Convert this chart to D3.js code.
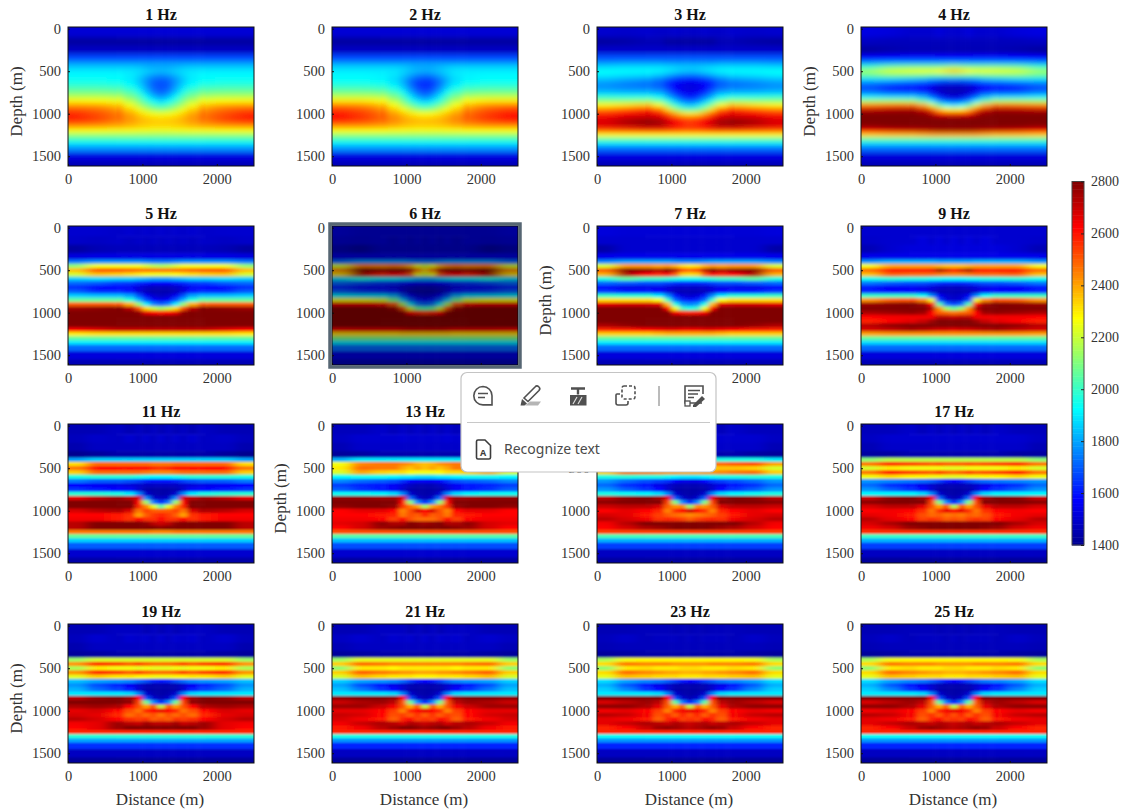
<!DOCTYPE html>
<html>
<head>
<meta charset="utf-8">
<script src="https://cdn.jsdelivr.net/npm/d3@7"></script>
<style>
  html, body { margin: 0; background: #fff; }
  svg { display: block; font-family: "Liberation Serif", serif; }
</style>
</head>
<body>
<svg id="chart" width="1123" height="812"></svg>
<script>
// velocity, in units of 10 m/s
// the model is symmetric about 1250 m so each row holds the left half only:
// distances 100, 400, 650, 850, 950, 1050, 1150, 1250
let depths = [50,150,250,350,400,450,500,550,600,650,700,750,800,850,900,950,1000,1050,1100,1150,1200,1250,1300,1350,1400,1500,1600];
let distances = [100,400,650,850,950,1050,1150,1250,1350,1450,1550,1650,1850,2100,2400];

let hz1 = [
[151,151,151,151,151,151,151,151],[143,143,143,143,143,143,143,143],[148,148,148,148,148,148,148,148],[167,167,167,167,167,167,167,167],
[178,178,178,178,178,178,178,178],[185,185,185,185,184,182,181,181],[190,190,190,189,188,186,184,183],[192,192,192,190,187,182,178,176],
[194,194,193,190,185,178,172,170],[197,197,196,192,186,178,170,168],[203,203,202,197,190,180,171,168],[209,209,208,203,196,185,175,171],
[218,218,217,210,203,193,183,178],[229,228,226,218,210,200,192,187],[241,240,236,226,217,209,202,198],[251,248,243,234,226,219,213,210],
[257,252,247,240,234,229,226,225],[259,254,248,242,238,235,233,232],[253,250,245,241,238,236,235,235],[241,240,238,236,234,233,232,232],
[227,227,226,226,225,225,224,224],[213,213,213,213,213,213,213,213],[201,201,201,201,201,201,201,201],[190,190,190,190,190,190,190,190],
[177,177,177,177,177,177,177,177],[153,153,153,153,153,153,153,153],[146,146,146,146,146,146,146,146]];
let hz2 = [
[151,151,151,151,151,151,151,151],[143,143,143,143,143,143,143,143],[148,148,148,148,148,148,148,148],[167,167,167,167,167,167,167,167],
[178,178,178,178,178,178,178,178],[186,186,186,186,185,183,181,181],[190,190,190,189,187,184,182,181],[192,192,191,189,185,180,175,173],
[193,193,192,188,182,174,168,166],[196,196,195,190,183,173,165,163],[202,202,201,195,187,176,167,164],[209,209,208,202,194,182,172,168],
[219,219,218,210,202,190,180,175],[231,231,228,218,209,198,189,185],[245,243,238,227,217,208,200,196],[254,251,245,235,227,220,213,210],
[260,255,249,241,236,231,228,227],[261,256,250,244,240,237,235,234],[254,251,247,243,240,238,237,237],[241,241,239,237,235,234,233,233],
[227,227,227,226,226,225,225,225],[213,213,213,213,213,213,213,213],[201,201,201,201,201,201,201,201],[190,190,190,190,190,190,190,190],
[177,177,177,177,177,177,177,177],[153,153,153,153,153,153,153,153],[146,146,146,146,146,146,146,146]];
let hz3 = [
[150,149,150,149,149,150,149,149],[143,144,146,146,143,143,143,143],[149,149,149,149,149,149,149,149],[168,168,168,168,168,168,168,168],
[178,179,179,179,178,178,178,178],[187,188,188,188,187,186,185,185],[193,192,192,191,189,187,185,184],[190,188,187,184,180,176,173,172],
[183,180,178,174,168,163,160,159],[178,175,173,170,163,157,154,153],[178,176,175,172,165,157,153,152],[185,183,183,180,172,162,156,154],
[198,196,196,192,182,172,164,160],[212,212,214,207,196,184,174,170],[228,231,236,227,212,198,188,184],[245,250,257,248,232,216,206,202],
[258,262,266,263,252,240,232,230],[265,270,272,270,264,258,252,250],[268,275,279,277,270,264,258,255],[265,268,272,271,267,263,258,256],
[250,252,254,254,253,252,250,250],[228,228,228,228,228,228,228,228],[205,205,205,205,205,205,205,205],[190,190,190,190,190,190,190,190],
[172,172,172,172,172,172,172,172],[153,153,153,153,153,153,153,153],[146,146,146,146,146,146,146,146]];
let hz4 = [
[153,152,150,150,150,152,150,150],[148,147,147,147,147,147,147,147],[143,145,146,146,146,146,146,146],[157,158,159,159,159,158,158,158],
[178,180,180,180,180,180,180,180],[200,208,210,210,210,210,212,214],[214,222,224,225,225,228,232,235],[205,209,208,207,205,205,206,207],
[186,185,182,180,176,174,172,172],[172,168,165,163,158,154,152,152],[168,162,160,157,152,148,147,147],[174,168,167,164,156,150,146,145],
[190,187,187,182,170,160,154,152],[214,215,215,205,190,176,168,165],[245,248,250,240,222,204,192,188],[270,272,274,268,252,236,228,225],
[280,280,280,278,272,262,258,258],[280,280,280,280,280,280,280,280],[280,280,280,280,280,280,280,280],[278,280,280,280,280,280,280,280],
[262,266,268,270,272,274,274,274],[234,236,236,238,240,240,240,240],[205,205,205,205,205,205,205,205],[188,188,188,188,188,188,188,188],
[172,172,172,172,172,172,172,172],[152,152,152,152,152,152,152,152],[146,146,146,146,146,146,146,146]];
let hz5 = [
[150,150,149,150,149,150,149,150],[149,148,149,148,149,148,149,148],[143,146,147,147,147,147,147,147],[152,153,153,153,153,153,153,153],
[174,178,178,178,178,176,174,174],[212,226,226,226,226,222,218,216],[236,252,252,250,248,248,248,248],[222,236,234,232,230,228,226,226],
[186,188,186,186,184,182,180,180],[172,170,166,165,162,160,158,158],[164,158,158,156,152,149,147,147],[170,163,163,160,152,147,145,145],
[186,184,184,180,168,156,150,148],[206,206,206,198,182,168,158,155],[250,250,250,238,212,190,175,170],[276,278,280,272,252,232,220,215],
[280,280,280,280,278,266,262,260],[280,280,280,280,280,280,280,280],[280,280,280,280,280,280,280,280],[280,280,280,280,280,280,280,280],
[262,266,270,270,270,270,270,270],[230,232,232,232,232,232,232,232],[206,206,206,206,206,206,206,206],[190,190,190,190,190,190,190,190],
[172,172,172,172,172,172,172,172],[152,152,152,152,152,152,152,152],[146,146,146,146,146,146,146,146]];
let hz6 = [
[152,150,150,150,150,150,150,150],[150,149,150,148,150,148,150,148],[146,143,148,148,148,148,148,148],[152,152,152,152,152,152,152,152],
[172,178,178,178,178,176,174,174],[222,246,244,246,244,238,226,222],[242,280,276,278,278,272,244,234],[232,272,258,262,260,250,228,224],
[188,196,190,190,188,186,182,182],[172,168,165,164,160,158,156,156],[162,156,156,154,150,148,146,146],[170,165,163,160,152,146,144,144],
[190,188,188,182,168,156,150,148],[226,226,222,208,186,170,160,156],[266,266,264,250,216,190,174,170],[280,280,280,276,252,222,206,202],
[280,280,280,280,278,262,258,255],[280,280,280,280,280,280,280,280],[280,280,280,280,280,280,280,280],[280,280,280,280,280,280,280,280],
[264,266,266,266,268,270,270,270],[232,232,232,232,234,234,234,234],[210,210,210,210,210,210,210,210],[190,190,190,190,190,190,190,190],
[172,172,172,172,172,172,172,172],[152,152,152,152,152,152,152,152],[146,146,146,146,146,146,146,146]];
let hz7 = [
[152,151,151,151,151,151,151,151],[150,150,150,150,150,150,150,150],[144,150,150,150,150,150,150,150],[154,154,154,154,154,154,154,154],
[176,180,180,180,180,178,176,176],[222,242,242,240,242,238,232,230],[250,280,278,274,280,272,254,250],[238,274,262,258,262,250,234,232],
[196,206,200,200,198,196,194,194],[172,170,168,168,166,164,162,162],[158,154,154,154,152,150,149,149],[165,160,160,158,152,147,146,146],
[200,198,198,190,176,160,152,150],[232,232,232,226,200,172,162,160],[266,268,268,266,236,196,178,175],[280,280,280,280,262,226,200,195],
[280,280,280,280,280,264,260,258],[280,280,280,280,280,280,280,280],[280,280,280,280,280,280,280,280],[274,278,280,280,280,280,280,280],
[258,260,262,264,266,266,264,264],[234,234,234,236,238,238,238,238],[206,206,206,206,206,206,206,206],[190,190,190,190,190,190,190,190],
[172,172,172,172,172,172,172,172],[152,152,152,152,152,152,152,152],[146,146,146,146,146,146,146,146]];
let hz9 = [
[150,150,150,150,150,150,150,150],[149,150,150,152,150,152,150,152],[146,150,152,152,152,152,152,152],[154,154,154,154,154,154,154,154],
[178,182,182,182,182,180,180,180],[226,240,240,240,240,238,236,236],[248,262,262,262,264,274,268,262],[236,250,248,248,248,246,244,244],
[194,198,196,196,194,194,192,192],[174,170,168,168,166,164,162,162],[160,156,156,154,152,150,148,148],[162,158,158,156,150,146,146,146],
[200,200,200,194,176,156,150,148],[242,250,252,244,224,166,152,150],[276,278,280,276,262,204,172,166],[280,280,280,280,274,242,214,206],
[274,276,278,276,262,250,248,246],[262,264,264,264,264,272,272,270],[258,262,266,270,276,280,280,280],[272,278,280,280,280,280,280,280],
[268,270,274,272,270,268,268,266],[240,242,242,242,242,242,242,242],[206,206,206,206,206,206,206,206],[188,188,188,188,188,188,188,188],
[172,172,172,172,172,172,172,172],[152,152,152,152,152,152,152,152],[146,146,146,146,146,146,146,146]];
let hz11 = [
[146,146,148,146,148,146,148,146],[147,149,148,150,148,150,148,150],[145,148,148,148,148,148,148,148],[140,142,144,144,144,144,144,144],
[180,186,186,186,186,186,186,186],[232,248,248,248,248,248,246,246],[246,262,262,262,262,262,258,256],[234,248,248,248,248,246,244,244],
[196,198,198,198,196,194,192,192],[174,170,170,168,166,162,160,160],[158,156,154,152,150,148,148,148],[164,160,158,156,150,145,144,144],
[198,198,196,190,176,150,145,144],[266,272,276,272,268,176,150,148],[280,280,280,280,262,214,174,162],[280,280,280,280,258,244,224,204],
[268,272,274,268,246,254,250,250],[262,262,260,256,240,250,255,258],[264,264,260,256,262,256,256,262],[272,280,280,280,280,278,272,270],
[272,280,280,280,280,280,280,278],[246,246,246,246,246,246,244,244],[206,206,206,206,206,206,206,206],[186,186,186,186,186,186,186,186],
[170,170,170,170,170,170,170,170],[150,150,150,150,150,150,150,150],[144,144,144,144,144,144,144,144]];
let hz13 = [
[147,147,149,147,149,147,149,147],[148,150,150,150,151,150,150,150],[146,149,149,149,149,149,149,149],[142,143,145,145,145,145,145,145],
[182,190,190,190,190,190,190,190],[226,244,246,246,244,242,238,236],[230,248,246,246,240,236,240,236],[222,240,234,232,232,228,226,226],
[192,194,194,192,190,190,188,188],[176,172,170,168,164,158,156,156],[166,162,160,156,152,148,146,146],[170,164,160,156,150,145,144,144],
[194,194,192,188,176,150,145,144],[278,278,276,276,268,172,150,146],[280,280,280,280,262,212,176,162],[278,280,280,278,256,246,240,214],
[262,266,266,262,244,252,268,262],[262,262,260,258,246,252,250,258],[264,264,262,254,262,252,248,248],[266,268,278,274,274,280,278,276],
[262,268,276,278,280,280,280,280],[252,252,252,252,252,252,252,252],[204,204,204,204,204,204,204,204],[184,184,184,184,184,184,184,184],
[168,168,168,168,168,168,168,168],[150,150,150,150,150,150,150,150],[143,143,143,143,143,143,143,143]];
let hz15 = [
[147,147,149,147,149,147,149,147],[148,150,150,150,150,150,150,150],[146,149,149,149,149,149,149,149],[142,143,145,145,145,145,145,145],
[190,196,196,196,196,196,196,196],[240,252,250,248,246,246,246,246],[222,234,236,236,234,236,234,234],[234,248,246,244,242,242,240,240],
[196,198,196,196,194,192,190,190],[178,172,168,166,164,158,154,154],[172,164,160,154,150,147,146,146],[178,170,164,158,150,145,144,144],
[196,194,192,188,176,150,145,144],[272,278,280,276,266,170,150,146],[278,280,280,280,254,210,176,160],[270,272,272,268,250,242,244,212],
[262,266,262,258,244,256,262,270],[268,266,260,254,250,248,246,244],[272,268,264,256,258,256,254,250],[264,272,280,280,280,280,280,280],
[262,268,274,276,278,280,280,280],[254,254,254,254,254,254,254,254],[202,202,202,202,202,202,202,202],[182,182,182,182,182,182,182,182],
[166,166,166,166,166,166,166,166],[148,148,148,148,148,148,148,148],[143,143,143,143,143,143,143,143]];
let hz17 = [
[147,147,149,147,149,147,149,147],[148,150,150,150,150,150,150,150],[146,149,149,149,149,149,149,149],[143,143,145,145,145,145,145,145],
[212,218,218,218,218,218,218,218],[246,258,254,252,250,252,250,250],[222,230,226,226,226,226,224,224],[246,260,254,252,250,254,250,248],
[226,232,228,228,226,226,224,224],[178,176,174,172,170,166,160,158],[172,164,160,154,150,147,146,146],[178,170,164,158,150,145,144,144],
[192,192,192,188,176,150,145,144],[270,278,280,276,264,172,150,146],[278,280,280,280,254,210,176,160],[268,272,272,266,252,240,252,216],
[262,264,262,256,246,256,266,262],[266,264,260,252,248,250,246,248],[272,266,262,254,256,254,250,252],[268,274,280,280,280,280,280,280],
[264,268,276,278,280,280,280,280],[256,256,256,256,256,256,256,256],[200,200,200,200,200,200,200,200],[182,182,182,182,182,182,182,182],
[166,166,166,166,166,166,166,166],[148,148,148,148,148,148,148,148],[142,142,142,142,142,142,142,142]];
let hz19 = [
[146,146,148,148,148,146,148,146],[147,150,148,150,149,150,148,150],[145,148,148,148,148,148,148,148],[142,143,144,144,144,144,144,144],
[214,222,222,222,222,222,222,222],[242,258,254,250,254,250,248,248],[216,230,226,226,224,226,224,224],[242,258,254,250,254,250,248,248],
[224,234,230,230,228,228,226,226],[184,180,178,176,172,168,162,160],[178,168,162,156,150,146,145,145],[182,172,166,160,150,145,144,144],
[190,190,190,188,176,150,145,144],[272,278,280,276,262,168,150,146],[280,280,280,278,254,208,176,160],[274,276,274,262,252,240,252,218],
[266,268,262,252,246,258,262,266],[268,266,258,248,252,248,252,246],[272,268,262,256,254,256,250,252],[264,266,276,272,270,276,272,272],
[262,266,276,280,280,280,280,280],[258,258,258,258,258,258,258,258],[198,198,198,198,198,198,198,198],[180,180,180,180,180,180,180,180],
[164,164,164,164,164,164,164,164],[148,148,148,148,148,148,148,148],[142,142,142,142,142,142,142,142]];
let hz21 = [
[146,146,148,148,148,146,148,146],[148,150,148,150,149,150,148,150],[146,148,148,148,148,148,148,148],[142,143,144,144,144,144,144,144],
[214,224,224,224,224,224,224,224],[234,248,246,244,244,244,244,244],[212,230,230,228,230,230,230,230],[234,250,246,244,242,242,240,240],
[222,236,232,230,230,230,228,228],[186,180,178,176,172,166,160,158],[180,168,160,154,150,146,145,145],[184,174,164,158,150,145,144,144],
[190,190,190,188,176,150,145,144],[278,280,280,278,262,168,150,146],[270,274,276,272,252,208,176,160],[276,276,270,264,252,238,252,218],
[266,266,262,254,244,258,262,266],[270,268,262,252,254,250,256,250],[268,264,260,250,258,262,254,256],[264,270,274,272,268,274,272,270],
[260,264,272,276,280,280,278,276],[258,258,258,258,258,258,258,258],[196,196,196,196,196,196,196,196],[178,178,178,178,178,178,178,178],
[162,162,162,162,162,162,162,162],[148,148,148,148,148,148,148,148],[142,142,142,142,142,142,142,142]];
let hz23 = [
[146,146,147,147,147,146,147,146],[147,149,147,148,148,148,147,148],[146,147,147,147,147,147,147,147],[142,143,144,144,144,144,144,144],
[216,226,228,228,228,228,228,228],[232,246,244,244,244,242,242,242],[212,230,232,230,230,230,232,232],[232,248,244,242,240,240,238,238],
[224,236,234,232,232,232,230,230],[188,180,176,174,170,166,160,158],[182,170,160,154,150,146,145,145],[186,176,164,158,150,145,144,144],
[190,190,190,188,176,150,145,144],[280,280,280,280,262,168,150,146],[268,272,276,272,252,206,174,160],[278,278,274,266,250,238,250,218],
[264,266,262,254,244,258,264,266],[272,270,264,252,256,250,258,252],[266,264,260,250,258,262,254,256],[266,270,274,272,270,274,272,270],
[258,262,270,276,278,276,274,272],[258,258,258,258,258,258,258,258],[194,194,194,194,194,194,194,194],[178,178,178,178,178,178,178,178],
[162,162,162,162,162,162,162,162],[148,148,148,148,148,148,148,148],[142,142,142,142,142,142,142,142]];
let hz25 = hz23; // 23 Hz and 25 Hz read the same

let frequencies = ['1 Hz','2 Hz','3 Hz','4 Hz','5 Hz','6 Hz','7 Hz','9 Hz','11 Hz','13 Hz','15 Hz','17 Hz','19 Hz','21 Hz','23 Hz','25 Hz'];
let tables = [hz1,hz2,hz3,hz4,hz5,hz6,hz7,hz9,hz11,hz13,hz15,hz17,hz19,hz21,hz23,hz25];
let distanceTicks = [0,1000,2000];
let depthTicks = [0,500,1000,1500];
let colorTicks = [1400,1600,1800,2000,2200,2400,2600,2800];
let depthLabelled = ['1 Hz','4 Hz','7 Hz','13 Hz','19 Hz'];

/*global d3*/
let svg = d3.select('#chart');
let colLefts = [68,332,597,861];
let rowTops = [27,226,424,624];
let panelW = 186;
let panelH = 139;

// matlab jet
let jet = d3.scaleLinear()
	.domain([1400,1575,1925,2275,2625,2800])
	.range(['#00008f','#0000ff','#00ffff','#ffff00','#ff0000','#800000'])
	.clamp(true);

let defs = svg.append('defs');
function addBlur(id, sx, sy) {
	defs.append('filter')
		.attr('id', id)
		.attr('filterUnits', 'userSpaceOnUse')
		.attr('x', 0).attr('y', 0).attr('width', 1123).attr('height', 812)
		.append('feGaussianBlur')
		.attr('stdDeviation', `${sx} ${sy}`);
}
// low frequency rows get more vertical softening, flanks more sideways softening than the notch
addBlur('blurNotch0', 3, 2.5);
addBlur('blurNotch1', 2.6, 1.4);
addBlur('blurNotch2', 2.4, 1);
addBlur('blurFlank0', 8, 2.5);
addBlur('blurFlank1', 7, 1.4);
addBlur('blurFlank2', 6, 1);

// cell edges half way between the read columns, outer ones pushed past the frame for the blur
function edges(centres, lo, hi) {
	let e = [lo];
	d3.pairs(centres).forEach(p => e.push((p[0] + p[1]) / 2));
	e.push(hi);
	return e;
}
let xEdges = edges(distances, -600, 3100);
let yEdges = edges(depths, -200, 1800);

frequencies.forEach((name, i) => {
	let left = colLefts[i % 4];
	let top = rowTops[Math.floor(i / 4)];
	let x = d3.scaleLinear().domain([0, 2500]).range([left, left + panelW]);
	let y = d3.scaleLinear().domain([-20, 1615]).range([top, top + panelH]);
	let tier = i < 4 ? 0 : i < 8 ? 1 : 2;

	defs.append('clipPath').attr('id', 'clip' + i)
		.append('rect').attr('x', left).attr('y', top).attr('width', panelW).attr('height', panelH);
	let flankClip = defs.append('clipPath').attr('id', 'flankClip' + i);
	[[0, 650], [1850, 2500]].forEach(s => {
		flankClip.append('rect')
			.attr('x', x(s[0])).attr('y', top)
			.attr('width', x(s[1]) - x(s[0])).attr('height', panelH);
	});

	let cells = [];
	tables[i].forEach((row, r) => {
		distances.forEach((d, c) => {
			cells.push({ r: r, c: c, v: row[c < 8 ? c : 14 - c] * 10 });
		});
	});

	function drawCells(parent, filterId) {
		parent.append('g').attr('filter', `url(#${filterId})`)
			.selectAll('rect')
			.data(cells)
			.enter().append('rect')
			.attr('x', d => x(xEdges[d.c]))
			.attr('y', d => y(yEdges[d.r]))
			.attr('width', d => x(xEdges[d.c + 1]) - x(xEdges[d.c]) + 0.5)
			.attr('height', d => y(yEdges[d.r + 1]) - y(yEdges[d.r]) + 0.5)
			.attr('fill', d => jet(d.v));
	}
	drawCells(svg.append('g').attr('clip-path', `url(#clip${i})`), 'blurNotch' + tier);
	drawCells(svg.append('g').attr('clip-path', `url(#flankClip${i})`), 'blurFlank' + tier);

	// box
	svg.append('rect')
		.attr('x', left).attr('y', top).attr('width', panelW).attr('height', panelH)
		.attr('fill', 'none').attr('stroke', '#111').attr('stroke-width', 1);

	let xAxis = d3.axisBottom(x).tickValues(distanceTicks).tickFormat(d3.format('d')).tickSizeInner(-2).tickSizeOuter(0).tickPadding(8);
	let yAxis = d3.axisLeft(y).tickValues(depthTicks).tickFormat(d3.format('d')).tickSizeInner(-2).tickSizeOuter(0).tickPadding(7);
	let gx = svg.append('g').attr('transform', `translate(0,${top + panelH})`).call(xAxis);
	let gy = svg.append('g').attr('transform', `translate(${left},0)`).call(yAxis);
	[gx, gy].forEach(g => {
		g.select('.domain').remove();
		g.selectAll('text').attr('font-size', 14.5).attr('font-family', '"Liberation Serif", serif').attr('fill', '#333');
		g.selectAll('line').attr('stroke', '#111');
	});

	svg.append('text')
		.attr('x', left + panelW / 2).attr('y', top - 7)
		.attr('text-anchor', 'middle')
		.attr('font-size', 16).attr('font-weight', 'bold').attr('fill', '#111')
		.text(name);

	if (depthLabelled.includes(name)) {
		svg.append('text')
			.attr('transform', `translate(${left - 46},${top + panelH / 2 + 5}) rotate(-90)`)
			.attr('text-anchor', 'middle')
			.attr('font-size', 17).attr('fill', '#333')
			.text('Depth (m)');
	}
	if (i >= 12) {
		svg.append('text')
			.attr('x', left + panelW / 2 - 1).attr('y', 805)
			.attr('text-anchor', 'middle')
			.attr('font-size', 17).attr('fill', '#333')
			.text('Distance (m)');
	}
});

// colorbar
let barY = d3.scaleLinear().domain([1400, 2800]).range([545, 181.5]);
let barX = 1072;
let barW = 12;
svg.append('g').selectAll('rect')
	.data(d3.range(1400, 2800, 10))
	.enter().append('rect')
	.attr('x', barX).attr('width', barW)
	.attr('y', d => barY(d + 10))
	.attr('height', d => barY(d) - barY(d + 10) + 0.5)
	.attr('fill', d => jet(d + 5));
svg.append('rect')
	.attr('x', barX).attr('y', barY(2800)).attr('width', barW).attr('height', barY(1400) - barY(2800))
	.attr('fill', 'none').attr('stroke', '#444');
let gc = svg.append('g').attr('transform', `translate(${barX + barW},0)`)
	.call(d3.axisRight(barY).tickValues(colorTicks).tickSizeInner(-3).tickSizeOuter(0).tickPadding(7).tickFormat(d3.format('d')));
gc.select('.domain').remove();
gc.selectAll('text').attr('font-size', 14).attr('font-family', '"Liberation Serif", serif').attr('fill', '#333');
gc.selectAll('line').attr('stroke', '#222');

// selected 6 Hz page element, dimmed with a slate frame
let sel = svg.append('g');
sel.append('rect')
	.attr('x', colLefts[1]).attr('y', rowTops[1]).attr('width', panelW).attr('height', panelH)
	.attr('fill', '#000').attr('opacity', 0.3);
sel.append('rect')
	.attr('x', colLefts[1] - 2).attr('y', rowTops[1] - 2).attr('width', panelW + 4).attr('height', panelH + 4)
	.attr('fill', 'none').attr('stroke', '#566673').attr('stroke-width', 3.5);

// pdf viewer popup sitting on top of the page
let popup = svg.append('g');
popup.append('rect')
	.attr('x', 461).attr('y', 372.5).attr('width', 255).attr('height', 99.5).attr('rx', 6)
	.attr('fill', '#fff').attr('stroke', '#c4c4c4').attr('stroke-width', 1.2);
popup.append('line').attr('x1', 467).attr('x2', 710).attr('y1', 422.5).attr('y2', 422.5).attr('stroke', '#c8c8c8');
popup.append('line').attr('x1', 659).attr('x2', 659).attr('y1', 386).attr('y2', 406).attr('stroke', '#777');
let ink = '#505050';
// comment
popup.append('path').attr('d', 'M483 386.5a9.2 9.2 0 1 0 0 18.4h9v-9.2a9.2 9.2 0 0 0-9-9.2z').attr('fill', 'none').attr('stroke', ink).attr('stroke-width', 1.6);
popup.append('path').attr('d', 'M478 393.5h10M478 397.5h7').attr('stroke', ink).attr('stroke-width', 1.5);
// highlight pen
popup.append('path').attr('d', 'M524 398l11-11a2.5 2.5 0 0 1 4 3.5l-11 11z').attr('fill', 'none').attr('stroke', ink).attr('stroke-width', 1.6);
popup.append('path').attr('d', 'M522 399l5 4.5-2.5 2h-4z').attr('fill', ink);
popup.append('path').attr('d', 'M530 401.5h11l-3 4h-13z').attr('fill', '#b5b5b5');
// text box
popup.append('path').attr('d', 'M571 388.5h14M578 388.5v6').attr('stroke', ink).attr('stroke-width', 2.4).attr('fill', 'none');
popup.append('rect').attr('x', 570).attr('y', 395).attr('width', 16.5).attr('height', 10.5).attr('fill', ink);
popup.append('path').attr('d', 'M573 404l4-7M578 404l4-7').attr('stroke', '#ddd').attr('stroke-width', 1.2);
// copy selection
popup.append('path').attr('d', 'M617 394h3M617 394a1 1 0 0 0-1 1v8a2 2 0 0 0 2 2h8a2 2 0 0 0 2-2v-2').attr('fill', 'none').attr('stroke', ink).attr('stroke-width', 1.6);
popup.append('rect').attr('x', 622).attr('y', 386).attr('width', 13).attr('height', 13).attr('rx', 2).attr('fill', 'none').attr('stroke', ink).attr('stroke-width', 1.6).attr('stroke-dasharray', '3 2');
// edit pdf
popup.append('path').attr('d', 'M702 403h-17v-17h18v8').attr('fill', 'none').attr('stroke', ink).attr('stroke-width', 1.6);
popup.append('path').attr('d', 'M688 390.5h12M688 394h10M688 397.5h6').attr('stroke', ink).attr('stroke-width', 1.3);
popup.append('rect').attr('x', 685).attr('y', 401).attr('width', 5).attr('height', 5).attr('fill', '#fff').attr('stroke', ink).attr('stroke-width', 1.3);
popup.append('path').attr('d', 'M693 405l9-9 3 3-9 8h-3z').attr('fill', ink);
// recognize text file icon
popup.append('path').attr('d', 'M478 440h7l5.5 5.5v12a1.5 1.5 0 0 1-1.5 1.5h-11a1.5 1.5 0 0 1-1.5-1.5v-16a1.5 1.5 0 0 1 1.5-1.5z').attr('fill', 'none').attr('stroke', '#3c3c3c').attr('stroke-width', 1.6);
popup.append('text').attr('x', 483).attr('y', 455.5).attr('text-anchor', 'middle')
	.attr('font-family', '"Open Sans", sans-serif').attr('font-size', 9).attr('font-weight', 'bold').attr('fill', '#3c3c3c').text('A');
popup.append('text').attr('x', 504).attr('y', 453.5)
	.attr('font-family', '"Noto Sans", sans-serif').attr('font-size', 14).attr('fill', '#4a4a4a').text('Recognize text');
</script>
</body>
</html>
